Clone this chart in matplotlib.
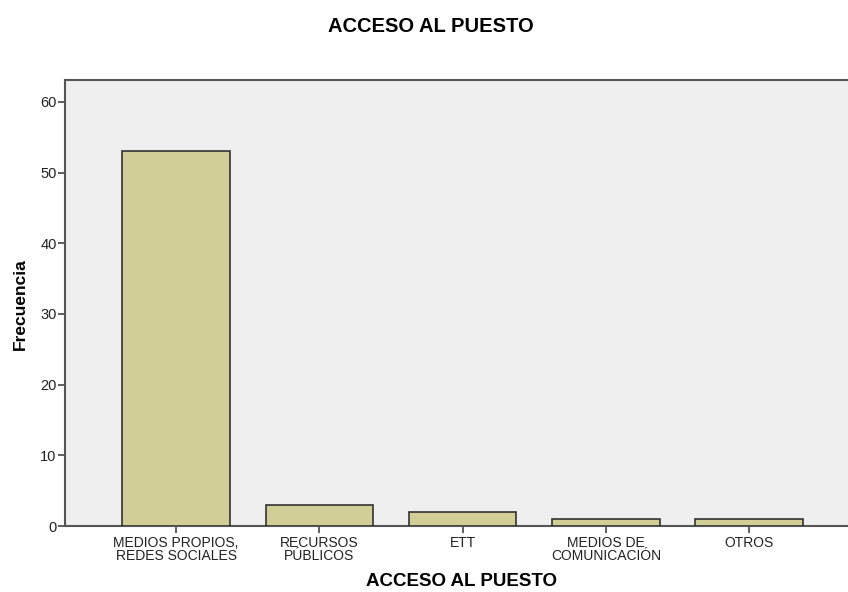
import numpy as np
import matplotlib
matplotlib.use("Agg")
import matplotlib.pyplot as plt

plt.rcParams['font.family'] = ['Liberation Sans', 'DejaVu Sans']

categories = ["MEDIOS PROPIOS,\nREDES SOCIALES", "RECURSOS\nPÚBLICOS", "ETT",
              "MEDIOS DE\nCOMUNICACIÓN", "OTROS"]
counts = [53, 3, 2, 1, 1]
yticks = [0, 10, 20, 30, 40, 50, 60]

fig = plt.figure(figsize=(8.48, 5.92), dpi=100)
ax = fig.add_axes([65 / 848, 1 - 526 / 592, 1 - 65 / 848, (526 - 80) / 592])
ax.set_facecolor("#efefef")

x = np.arange(len(categories))
ax.bar(x, counts, width=0.75, color="#d2ce98", edgecolor="#333333", linewidth=1.2, zorder=3)

ax.set_xlim(-0.775, 4.69)
ax.set_ylim(0, 63.1)
ax.set_yticks(yticks)
ax.set_xticks(x)
ax.set_xticklabels(categories, fontsize=10, linespacing=0.95, color="#222222")
ax.tick_params(axis="y", labelsize=10.5, length=5, width=1.2, color="#444444", labelcolor="#222222", pad=1)
ax.tick_params(axis="x", length=5, width=1.2, color="#444444", pad=2)

for side in ["left", "bottom", "top"]:
    ax.spines[side].set_color("#555555")
    ax.spines[side].set_linewidth(1.5)
ax.spines["right"].set_visible(False)

fig.text(461 / 848, 1 - 582 / 592, "ACCESO AL PUESTO", fontsize=13.5, fontweight="bold",
         ha="center", va="center")
fig.text(20 / 848, 1 - 304 / 592, "Frecuencia", fontsize=12.5, fontweight="bold",
         ha="center", va="center", rotation=90)
fig.text(431 / 848, 1 - 27 / 592, "ACCESO AL PUESTO", fontsize=14.5, fontweight="bold",
         ha="center", va="center")

fig.savefig("out.png", dpi=100)
